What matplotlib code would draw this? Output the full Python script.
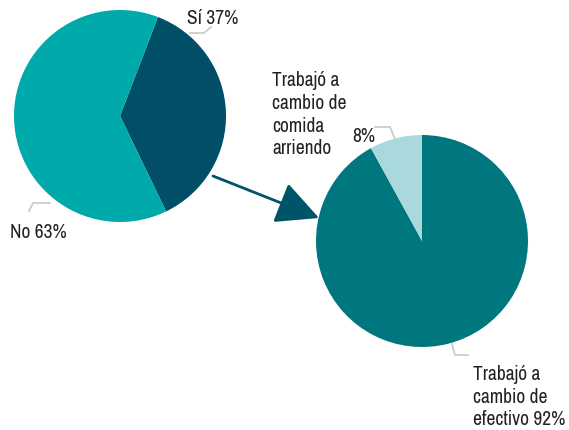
import matplotlib.pyplot as plt
from matplotlib.patches import FancyArrowPatch
from matplotlib import font_manager

nombres = sorted({f.name for f in font_manager.fontManager.ttflist})
estrecha = [n for n in nombres if 'Condensed' in n or 'Narrow' in n]
familia = estrecha[0] if estrecha else 'DejaVu Sans'
plt.rcParams['font.family'] = [familia, 'DejaVu Sans']

# datos
etiquetas_1 = ['Sí 37%', 'No 63%']
valores_1 = [37, 63]
colores_1 = ['#004f66', '#00a9aa']

etiquetas_2 = ['Trabajó a\ncambio de\nefectivo 92%', 'Trabajó a\ncambio de\ncomida\narriendo']
valores_2 = [92, 8]
colores_2 = ['#00777f', '#a9d9dd']

W, H = 569, 431
fig = plt.figure(figsize=(W / 100, H / 100), dpi=100)
ax = fig.add_axes([0, 0, 1, 1])

def py(y):
    return H - y

# pie izquierdo
ax.pie(valores_1, colors=colores_1, startangle=69, counterclock=False,
       center=(120, py(117)), radius=106, frame=True)
# pie derecho
ax.pie(valores_2, colors=colores_2, startangle=90, counterclock=False,
       center=(422, py(242)), radius=106, frame=True)
ax.set_xlim(0, W)
ax.set_ylim(0, H)
ax.set_aspect('equal')
ax.axis('off')

gris = '#c8c8c8'
txt = '#222222'
fs = 14
fw = 'light'

# lineas guia
ax.plot([190, 204, 211], [py(34), py(34), py(28)], color=gris, lw=1.2)
ax.plot([29, 33, 50], [py(212), py(204), py(204)], color=gris, lw=1.2)
ax.plot([375, 390, 395], [py(128), py(128), py(140)], color=gris, lw=1.2)
ax.plot([452, 455, 468], [py(345), py(356), py(356)], color=gris, lw=1.2)

ax.text(187, py(18), etiquetas_1[0], fontsize=fs, fontweight=fw, color=txt, va='center', ha='left')
ax.text(10, py(233), etiquetas_1[1], fontsize=fs, fontweight=fw, color=txt, va='center', ha='left')
ax.text(272, py(71), etiquetas_2[1], fontsize=fs, fontweight=fw, color=txt, va='top', ha='left', linespacing=1.25)
ax.text(352, py(137), '8%', fontsize=fs, fontweight=fw, color=txt, va='center', ha='left')
ax.text(473, py(365), etiquetas_2[0], fontsize=fs, fontweight=fw, color=txt, va='top', ha='left', linespacing=1.25)

flecha = FancyArrowPatch((213, py(177)), (319, py(219)), arrowstyle='-|>,head_length=12,head_width=6',
                         mutation_scale=2.2, color='#005468', lw=2, shrinkA=0, shrinkB=0)
ax.add_patch(flecha)

fig.savefig('out.png', dpi=100)
